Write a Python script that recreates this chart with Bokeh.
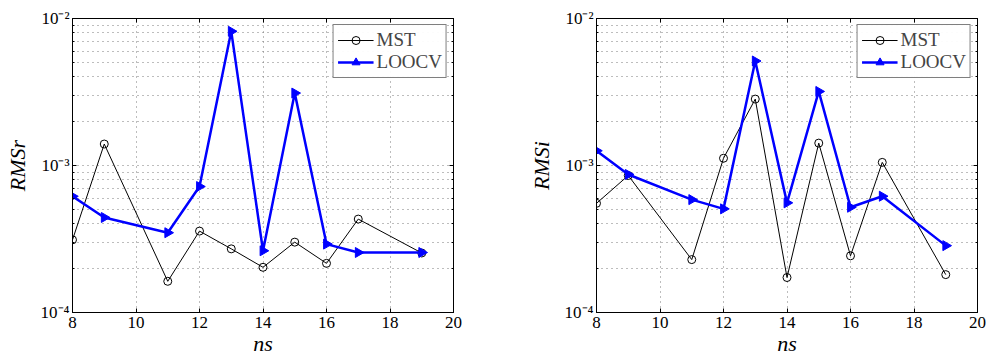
import math
from bokeh.plotting import figure
from bokeh.layouts import row
from bokeh.models import FixedTicker, LogAxis, LinearAxis, Legend, LegendItem, Range1d
from bokeh.embed import file_html
from bokeh.resources import INLINE

ns = [8, 9, 11, 12, 13, 14, 15, 16, 17, 19]
rmsr_mst = [3.12e-4, 1.40e-3, 1.63e-4, 3.58e-4, 2.71e-4, 2.03e-4, 3.01e-4, 2.16e-4, 4.32e-4, 2.54e-4]
rmsr_loocv = [6.17e-4, 4.43e-4, 3.49e-4, 7.19e-4, 8.18e-3, 2.63e-4, 3.11e-3, 2.92e-4, 2.56e-4, 2.56e-4]
rmsi_mst = [5.53e-4, 8.55e-4, 2.29e-4, 1.12e-3, 2.83e-3, 1.73e-4, 1.42e-3, 2.43e-4, 1.05e-3, 1.81e-4]
rmsi_loocv = [1.26e-3, 8.69e-4, 5.86e-4, 5.07e-4, 5.14e-3, 5.57e-4, 3.19e-3, 5.20e-4, 6.18e-4, 2.85e-4]

x_ticks = [8, 10, 12, 14, 16, 18, 20]
y_ticks = [1e-4, 1e-3, 1e-2]
y_tick_labels = ["10\u207b\u2074", "10\u207b\u00b3", "10\u207b\u00b2"]
y_minor = [m * 10.0 ** e for e in (-4, -3) for m in range(2, 10)]

FONT = "Liberation Serif"
GRID = "#7a7a7a"


def make(ylabel, mst, loocv, width, bl, br, bt, bb):
    p = figure(width=width, height=358, x_range=Range1d(8, 20), y_range=Range1d(1e-4, 1e-2),
               y_axis_type="log", output_backend="svg", toolbar_location=None,
               min_border_left=bl, min_border_right=br, min_border_top=bt, min_border_bottom=bb,
               outline_line_color="black", outline_line_width=1)
    xt = FixedTicker(ticks=x_ticks, minor_ticks=[])
    yt = FixedTicker(ticks=y_ticks, minor_ticks=y_minor)
    xax = p.xaxis[0]
    yax = p.yaxis[0]
    xax.ticker = xt
    yax.ticker = yt
    p.xgrid.ticker = xt
    p.ygrid.ticker = yt
    yax.major_label_overrides = {t: l for t, l in zip(y_ticks, y_tick_labels)}
    for g in (p.xgrid, p.ygrid):
        g.grid_line_color = GRID
        g.grid_line_dash = "1 4"
        g.grid_line_width = 1
    p.ygrid.minor_grid_line_color = GRID
    p.ygrid.minor_grid_line_dash = "1 4"

    top = LinearAxis(ticker=xt, major_label_overrides={t: "" for t in x_ticks})
    right = LogAxis(ticker=yt, major_label_overrides={t: "" for t in y_ticks})
    p.add_layout(top, "above")
    p.add_layout(right, "right")
    for ax in (top, right):
        ax.major_label_standoff = 0
    for ax in (xax, yax, top, right):
        ax.axis_line_color = "black"
        ax.major_tick_in = 4
        ax.major_tick_out = 0
        ax.minor_tick_in = 2
        ax.minor_tick_out = 0
        ax.major_tick_line_color = "black"
        ax.minor_tick_line_color = "black"
    for ax in (xax, yax):
        ax.major_label_text_font = FONT
        ax.major_label_text_font_size = "17px"
        ax.major_label_text_color = "black"
        ax.axis_label_text_font = FONT
        ax.axis_label_text_font_style = "italic"
        ax.axis_label_text_font_size = "22px"
        ax.axis_label_text_color = "black"
    xax.axis_label = "ns"
    yax.axis_label = ylabel
    xax.major_label_standoff = 4
    xax.axis_label_standoff = 0
    yax.major_label_standoff = 3
    yax.axis_label_standoff = 8

    l1 = p.line(ns, mst, line_color="black", line_width=1)
    s1 = p.scatter(ns, mst, marker="circle", size=8, line_color="black", fill_color=None, line_width=1)
    l2 = p.line(ns, loocv, line_color="#0000ff", line_width=2.5)
    s2 = p.scatter(ns, loocv, marker="triangle", angle=-math.pi / 2, size=10,
                   line_color="#0000ff", fill_color="#0000ff")
    leg = Legend(items=[LegendItem(label="MST", renderers=[l1, s1]),
                        LegendItem(label="LOOCV", renderers=[l2, s2])],
                 location="top_right")
    leg.label_text_font = FONT
    leg.label_text_font_size = "19px"
    leg.border_line_color = "black"
    leg.border_line_width = 1
    leg.margin = 6
    leg.padding = 4
    leg.spacing = 0
    leg.glyph_width = 36
    leg.label_standoff = 3
    p.add_layout(leg)
    return p


p1 = make("RMSr", rmsr_mst, rmsr_loocv, 494, 72, 41, 18, 43)
p2 = make("RMSi", rmsi_mst, rmsi_loocv, 495, 102, 12, 18, 46)
layout = row(p1, p2)
open("out.html", "w").write(file_html(layout, INLINE))
